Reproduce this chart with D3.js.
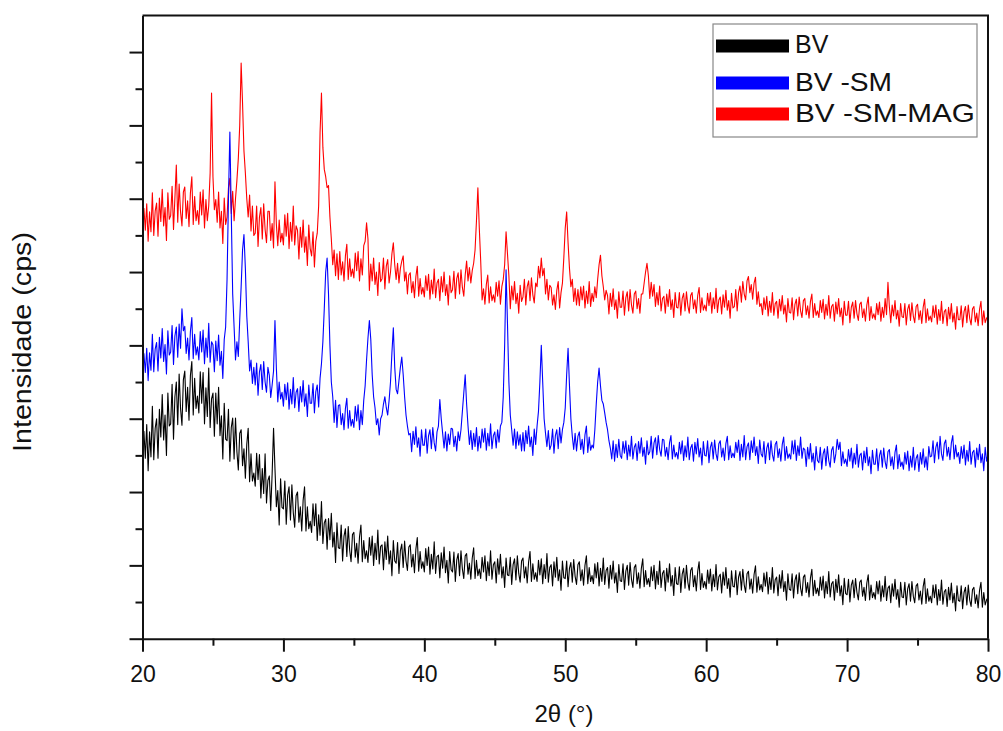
<!DOCTYPE html>
<html>
<head>
<meta charset="utf-8">
<script src="https://cdn.jsdelivr.net/npm/d3@7"></script>
<style>
  body { margin: 0; background: #fff; }
  svg { display: block; }
  text { font-family: "Liberation Sans", Arial, sans-serif; fill: #111; }
</style>
</head>
<body>
<svg id="chart" width="1003" height="731"></svg>
<script>
// Scan: 2θ from 20° to 80°, step 0.1° (one row below = 1°)
const thetaStart = 20;
const thetaStep = 0.1;

// Intensity (cps) for each sample
const bv = [
  2240, 2830, 2460, 2920, 2290, 2820, 2480, 3170, 2440, 2870,
  3000, 2460, 3130, 2750, 3330, 2710, 3050, 2500, 3350, 2900,
  2930, 3470, 2720, 3300, 3500, 2920, 3610, 3140, 2910, 3530,
  3650, 3100, 3430, 2980, 3590, 3780, 3050, 3550, 3140, 3310,
  3080, 3640, 3210, 3630, 2930, 3420, 3030, 3690, 2880, 3270,
  3350, 2760, 3350, 2930, 3430, 2770, 3040, 2450, 3210, 2720,
  2700, 3130, 2420, 2880, 3010, 2450, 3010, 2550, 2300, 2800,
  2850, 2360, 2590, 2190, 2650, 2870, 2140, 2520, 2150, 2260,
  2080, 2530, 2170, 2510, 1920, 2320, 1980, 2520, 1850, 2160,
  2220, 1750, 2250, 2870, 2320, 1800, 2020, 1550, 2180, 1790,
  1770, 2150, 1560, 1960, 2070, 1620, 2100, 1720, 1520, 1950,
  2000, 1590, 1800, 1470, 1890, 2070, 1470, 1800, 1500, 1600,
  1450, 1840, 1540, 1840, 1340, 1690, 1410, 1870, 1300, 1580,
  1630, 1220, 1640, 1350, 1710, 1250, 1450, 1040, 1580, 1240,
  1230, 1550, 1060, 1400, 1500, 1120, 1530, 1210, 1050, 1420,
  1450, 1110, 1300, 1030, 1390, 1550, 1050, 1340, 1090, 1200,
  1040, 1380, 1140, 1400, 1000, 1300, 1080, 1480, 1020, 1260,
  1280, 940, 1320, 1080, 1400, 1020, 1200, 860, 1340, 1060,
  1030, 1310, 890, 1200, 1290, 970, 1330, 1060, 930, 1250,
  1280, 980, 1150, 900, 1220, 1380, 920, 1190, 960, 1050,
  910, 1230, 1000, 1250, 880, 1150, 950, 1320, 890, 1120,
  1140, 830, 1170, 960, 1250, 900, 1070, 760, 1190, 940,
  910, 1180, 780, 1070, 1160, 860, 1200, 950, 820, 1130,
  1160, 880, 1030, 810, 1100, 1240, 820, 1070, 860, 950,
  820, 1110, 910, 1130, 790, 1050, 860, 1200, 810, 1010,
  1050, 760, 1090, 880, 1150, 830, 980, 700, 1100, 870,
  860, 1110, 740, 1010, 1090, 800, 1130, 890, 770, 1060,
  1100, 830, 980, 760, 1050, 1190, 780, 1020, 810, 900,
  780, 1070, 870, 1090, 750, 1010, 820, 1160, 770, 970,
  1010, 720, 1050, 840, 1110, 790, 940, 660, 1060, 830,
  820, 1060, 710, 960, 1040, 770, 1080, 850, 740, 1010,
  1050, 790, 940, 730, 1000, 1130, 750, 970, 780, 860,
  750, 1020, 830, 1040, 720, 960, 780, 1100, 740, 930,
  970, 690, 1000, 810, 1060, 760, 900, 630, 1010, 790,
  780, 1020, 670, 920, 1000, 730, 1040, 810, 700, 970,
  1010, 750, 900, 690, 960, 1090, 710, 930, 740, 820,
  710, 980, 790, 1000, 680, 920, 740, 1060, 700, 890,
  930, 650, 960, 770, 1020, 720, 860, 590, 970, 750,
  740, 980, 630, 880, 960, 690, 1000, 770, 660, 930,
  970, 710, 860, 650, 920, 1050, 670, 890, 700, 780,
  680, 935, 755, 950, 650, 875, 710, 1010, 665, 845,
  880, 625, 910, 730, 970, 685, 820, 565, 925, 715,
  705, 930, 600, 840, 915, 660, 945, 735, 630, 885,
  920, 680, 815, 620, 875, 995, 635, 845, 665, 740,
  640, 895, 715, 910, 610, 835, 670, 970, 625, 805,
  840, 585, 870, 690, 930, 645, 780, 525, 885, 675,
  660, 885, 555, 795, 870, 615, 900, 690, 585, 840,
  870, 630, 765, 570, 825, 945, 585, 795, 615, 690,
  585, 840, 660, 855, 555, 780, 615, 915, 570, 750,
  780, 525, 810, 630, 870, 585, 720, 465, 825, 615,
  600, 810, 500, 730, 800, 560, 820, 630, 530, 770,
  800, 580, 700, 520, 760, 870, 530, 730, 560, 630,
  540, 780, 610, 790, 510, 720, 570, 850, 520, 690,
  720, 490, 750, 580, 810, 540, 670, 430, 770, 570,
  560, 770, 460, 680, 750, 510, 780, 580, 490, 720,
  750, 530, 650, 470, 710, 820, 480, 680, 510, 580,
  490, 730, 560, 740, 460, 670, 520, 800, 470, 640,
  670, 440, 700, 530, 760, 490, 620, 380, 720, 520,
  510, 720, 410, 630, 700, 460, 730, 530, 440, 670,
  700, 480, 600, 420, 660, 770, 430, 630, 460, 530,
  560
];

const bvSm = [
  3470, 3890, 3630, 3960, 3520, 3900, 3660, 4150, 3640, 3950,
  4040, 3650, 4110, 3830, 4230, 3780, 4010, 3610, 4200, 3870,
  3910, 4270, 3740, 4130, 4250, 3840, 4290, 3960, 4500, 4200,
  4260, 3890, 4100, 3800, 4190, 4380, 3820, 4150, 3870, 3980,
  3800, 4190, 3910, 4210, 3750, 4100, 3840, 4300, 3770, 4050,
  4010, 3640, 4060, 3790, 4140, 3730, 3920, 3550, 4080, 4250,
  4900, 6000, 6910, 5800, 4700, 4250, 3800, 4050, 3850, 4350,
  4800, 5300, 5510, 5050, 4400, 4050, 3650, 3800, 3480, 3700,
  3460, 3760, 3320, 3640, 3740, 3400, 3780, 3500, 3360, 3700,
  3590, 3290, 3460, 3650, 4340, 3690, 3230, 3500, 3270, 3360,
  3170, 3470, 3260, 3490, 3130, 3400, 3200, 3560, 3150, 3360,
  3410, 3100, 3440, 3230, 3520, 3170, 3340, 3030, 3460, 3210,
  3210, 3480, 3080, 3370, 3460, 3160, 3550, 3750, 4050, 4500,
  5000, 5190, 4700, 4000, 3500, 3300, 2950, 3250, 2880, 3180,
  3190, 2920, 3070, 2850, 3140, 3280, 2870, 3110, 2900, 2990,
  2880, 3170, 2970, 3190, 2850, 3110, 2920, 3250, 3450, 3800,
  4100, 4340, 4080, 3600, 3300, 3150, 2920, 3000, 2780, 3000,
  3050, 3200, 3300, 3150, 3050, 3250, 3500, 3900, 4240, 3700,
  3400, 3340, 3520, 3700, 3840, 3600, 3300, 3050, 2900, 2780,
  2800, 2550, 2830, 2650, 2890, 2610, 2740, 2490, 2850, 2640,
  2640, 2860, 2530, 2770, 2850, 2590, 2880, 2670, 2560, 2820,
  2900, 3260, 3000, 2800, 2600, 2820, 2560, 2790, 2650, 2870,
  2860, 2620, 2760, 2560, 2820, 2700, 2850, 3100, 3350, 3600,
  3200, 2900, 2650, 2840, 2580, 2800, 2620, 2880, 2560, 2760,
  2600, 2860, 2680, 2870, 2570, 2800, 2630, 2930, 2590, 2770,
  2820, 2600, 2850, 2680, 2900, 2950, 3300, 4000, 5030, 4300,
  3500, 3050, 2850, 2640, 2860, 2590, 2820, 2640, 2780, 2560,
  2810, 2560, 2840, 2660, 2900, 2620, 2750, 2500, 2860, 2650,
  2900, 3100, 3500, 4000, 3500, 3000, 2800, 2620, 2840, 2580,
  2640, 2860, 2530, 2770, 2850, 2590, 2880, 2670, 2850, 2950,
  3150, 3600, 3960, 3450, 3000, 2760, 2580, 2800, 2560, 2760,
  2820, 2580, 2720, 2520, 2780, 2900, 2540, 2750, 2570, 2640,
  2600, 2850, 3200, 3500, 3690, 3450, 3250, 3200, 3080, 2950,
  2850, 2700, 2600, 2450, 2700, 2420, 2650, 2470, 2720, 2500,
  2460, 2690, 2530, 2700, 2440, 2640, 2490, 2760, 2450, 2610,
  2660, 2430, 2690, 2530, 2740, 2490, 2610, 2380, 2700, 2510,
  2550, 2760, 2460, 2670, 2740, 2510, 2770, 2580, 2490, 2720,
  2710, 2490, 2610, 2440, 2670, 2770, 2450, 2640, 2480, 2540,
  2450, 2680, 2520, 2700, 2430, 2630, 2480, 2750, 2440, 2600,
  2650, 2420, 2680, 2520, 2730, 2480, 2600, 2370, 2690, 2500,
  2490, 2700, 2400, 2610, 2680, 2450, 2710, 2520, 2430, 2660,
  2700, 2480, 2600, 2430, 2660, 2760, 2440, 2630, 2470, 2530,
  2470, 2680, 2540, 2710, 2430, 2650, 2480, 2770, 2440, 2620,
  2670, 2440, 2700, 2540, 2750, 2500, 2620, 2390, 2710, 2520,
  2480, 2690, 2390, 2600, 2670, 2440, 2700, 2510, 2420, 2650,
  2690, 2470, 2590, 2420, 2650, 2750, 2430, 2620, 2460, 2520,
  2450, 2700, 2520, 2710, 2430, 2630, 2500, 2750, 2460, 2600,
  2580, 2350, 2610, 2450, 2660, 2410, 2530, 2300, 2620, 2430,
  2400, 2610, 2310, 2520, 2590, 2360, 2620, 2430, 2340, 2570,
  2620, 2400, 2520, 2720, 2580, 2680, 2360, 2550, 2390, 2450,
  2350, 2580, 2420, 2600, 2330, 2530, 2380, 2650, 2340, 2500,
  2530, 2300, 2560, 2400, 2610, 2360, 2480, 2250, 2570, 2380,
  2380, 2590, 2290, 2500, 2570, 2340, 2600, 2410, 2320, 2550,
  2580, 2360, 2480, 2310, 2540, 2640, 2320, 2510, 2350, 2410,
  2310, 2540, 2380, 2560, 2290, 2490, 2340, 2610, 2300, 2460,
  2510, 2280, 2540, 2380, 2590, 2340, 2480, 2300, 2620, 2480,
  2490, 2700, 2400, 2610, 2680, 2450, 2760, 2520, 2430, 2660,
  2710, 2490, 2610, 2440, 2670, 2770, 2450, 2640, 2480, 2540,
  2390, 2620, 2460, 2640, 2370, 2570, 2420, 2690, 2380, 2540,
  2570, 2340, 2600, 2440, 2650, 2400, 2520, 2290, 2610, 2420,
  2520
];

const bvSmMag = [
  5410, 5870, 5570, 5930, 5420, 5820, 5550, 6080, 5500, 5830,
  5940, 5490, 6010, 5690, 6130, 5630, 5880, 5430, 6080, 5720,
  5770, 6170, 5580, 6010, 6460, 5680, 6200, 5820, 5630, 6090,
  6160, 5730, 5970, 5620, 6080, 6300, 5650, 6030, 5700, 5840,
  5650, 6090, 5780, 6120, 5600, 5990, 5700, 5900, 6350, 7440,
  6300, 5850, 5990, 5680, 6090, 5600, 5830, 5390, 6010, 5650,
  5750, 6150, 6280, 5800, 6100, 5700, 6000, 6250, 6550, 7000,
  7850, 7300, 6650, 6350, 6000, 5750, 6050, 5560, 5900, 5500,
  5530, 5900, 5350, 5750, 5880, 5450, 5930, 5580, 5400, 5830,
  5830, 5430, 5660, 5330, 6230, 5650, 5360, 5710, 5410, 5530,
  5370, 5780, 5490, 5800, 5320, 5680, 5420, 5900, 5370, 5630,
  5570, 5180, 5610, 5340, 5710, 5270, 5480, 5090, 5640, 5320,
  5220, 5550, 5070, 5420, 5530, 5900, 6900, 7440, 6700, 6400,
  6300, 6150, 6180, 5750, 5450, 5100, 5300, 4950, 5250, 4900,
  5280, 4960, 5140, 4880, 5220, 5380, 4900, 5180, 4940, 5040,
  4920, 5260, 5020, 5280, 4880, 5180, 4960, 5360, 5420, 5670,
  5450, 4750, 5110, 4880, 5190, 4830, 5000, 4680, 5130, 4870,
  4910, 5190, 4770, 5080, 5170, 4850, 5000, 5250, 5400, 5100,
  4900, 5120, 4850, 5050, 5150, 5220, 4880, 5000, 4700, 4960,
  4990, 4720, 4870, 4650, 4940, 5080, 4670, 4910, 4700, 4790,
  4660, 4950, 4750, 4970, 4630, 4890, 4700, 5040, 4650, 4850,
  4900, 4610, 4940, 4730, 5000, 4680, 4830, 4550, 4950, 4720,
  4760, 5010, 4640, 4910, 4990, 4700, 5030, 4790, 4670, 4960,
  5150, 4880, 5060, 4850, 5020, 5120, 5300, 5700, 6150, 5600,
  5150, 4620, 4770, 4560, 4830, 4960, 4580, 4800, 4610, 4690,
  4590, 4860, 4670, 4880, 4560, 4800, 4900, 5100, 5550, 5250,
  4950, 4500, 4810, 4620, 4870, 4570, 4710, 4440, 4820, 4600,
  4660, 4900, 4550, 4800, 4880, 4610, 4920, 4690, 4580, 4850,
  4800, 5080, 4920, 5190, 4950, 5050, 4700, 4900, 4620, 4820,
  4790, 4550, 4690, 4490, 4750, 4870, 4510, 4720, 4850, 5200,
  5600, 5820, 5400, 5050, 4800, 4900, 4600, 4780, 4550, 4760,
  4540, 4800, 4620, 4810, 4510, 4740, 4570, 4870, 4530, 4710,
  4600, 4800, 4650, 4900, 5100, 5230, 4950, 4800, 4620, 4750,
  4680, 4430, 4710, 4530, 4770, 4490, 4620, 4370, 4730, 4520,
  4520, 4740, 4410, 4650, 4730, 4470, 4760, 4550, 4440, 4700,
  4740, 4500, 4640, 4440, 4700, 4700, 4850, 5000, 5120, 4950,
  4640, 4860, 4670, 4830, 4530, 4720, 4550, 4810, 4470, 4640,
  4670, 4440, 4700, 4530, 4760, 4490, 4620, 4380, 4720, 4520,
  4510, 4720, 4410, 4640, 4710, 4470, 4730, 4540, 4440, 4680,
  4720, 4500, 4620, 4440, 4680, 4790, 4450, 4650, 4480, 4550,
  4470, 4710, 4540, 4720, 4440, 4650, 4500, 4780, 4450, 4620,
  4660, 4430, 4690, 4520, 4750, 4480, 4610, 4370, 4710, 4510,
  4530, 4760, 4470, 4720, 4810, 4590, 4870, 4700, 4620, 4880,
  4940, 4720, 4830, 4630, 4850, 4930, 4560, 4730, 4530, 4570,
  4420, 4650, 4490, 4670, 4400, 4600, 4450, 4720, 4410, 4570,
  4600, 4370, 4630, 4470, 4680, 4430, 4550, 4320, 4640, 4450,
  4440, 4650, 4350, 4560, 4630, 4400, 4660, 4470, 4380, 4610,
  4640, 4420, 4540, 4370, 4600, 4700, 4380, 4570, 4410, 4470,
  4380, 4610, 4450, 4630, 4360, 4560, 4410, 4680, 4370, 4530,
  4560, 4330, 4590, 4430, 4640, 4390, 4510, 4280, 4600, 4410,
  4410, 4600, 4310, 4520, 4590, 4370, 4610, 4430, 4340, 4560,
  4590, 4380, 4500, 4330, 4550, 4660, 4340, 4530, 4370, 4430,
  4350, 4570, 4420, 4590, 4330, 4520, 4380, 4640, 4420, 4860,
  4530, 4310, 4550, 4400, 4610, 4360, 4480, 4260, 4570, 4390,
  4380, 4570, 4280, 4490, 4560, 4340, 4580, 4400, 4310, 4530,
  4560, 4350, 4470, 4300, 4520, 4630, 4310, 4500, 4340, 4400,
  4320, 4540, 4380, 4550, 4290, 4490, 4340, 4600, 4300, 4460,
  4490, 4270, 4520, 4360, 4570, 4320, 4440, 4220, 4530, 4350,
  4350, 4540, 4250, 4460, 4530, 4310, 4550, 4370, 4280, 4500,
  4530, 4320, 4440, 4270, 4490, 4600, 4280, 4470, 4310, 4370,
  4400
];

const seriesNames = ["BV", "BV -SM", "BV -SM-MAG"];
const seriesColors = ["#000000", "#0000ff", "#ff0000"];
const xMajorTicks = [20, 30, 40, 50, 60, 70, 80];
const xMinorTicks = [25, 35, 45, 55, 65, 75];
const yMajorTicks = [0, 1000, 2000, 3000, 4000, 5000, 6000, 7000, 8000];
const yMinorTicks = [500, 1500, 2500, 3500, 4500, 5500, 6500, 7500];

const svg = d3.select("#chart");
const plotLeft = 142.5, plotRight = 988, plotTop = 15.4, plotBottom = 638.7;

const x = d3.scaleLinear().domain([20, 80]).range([plotLeft, plotRight]);
const y = d3.scaleLinear().domain([0, 8500]).range([plotBottom, plotTop]);

// Traces: red first, black last on top
const traces = [
  { values: bvSmMag, color: seriesColors[2] },
  { values: bvSm, color: seriesColors[1] },
  { values: bv, color: seriesColors[0] }
];
const line = d3.line()
  .x((d, i) => x(thetaStart + i * thetaStep))
  .y(d => y(d));

svg.append("g")
  .selectAll("path")
  .data(traces)
  .join("path")
  .attr("d", d => line(d.values))
  .attr("fill", "none")
  .attr("stroke", d => d.color)
  .attr("stroke-width", 1.1)
  .attr("stroke-linejoin", "round");

// Frame (top and right edges)
svg.append("path")
  .attr("d", `M${plotLeft},${plotTop}H${plotRight}V${plotBottom}`)
  .attr("fill", "none")
  .attr("stroke", "#111")
  .attr("stroke-width", 2);

// X axis
const xMajor = svg.append("g")
  .attr("transform", `translate(0,${plotBottom})`)
  .call(d3.axisBottom(x).tickValues(xMajorTicks).tickSize(13).tickSizeOuter(0).tickPadding(14));
const xMinor = svg.append("g")
  .attr("transform", `translate(0,${plotBottom})`)
  .call(d3.axisBottom(x).tickValues(xMinorTicks).tickSize(7).tickFormat(""));
xMinor.select(".domain").remove();

// Y axis (unlabelled ticks)
svg.append("g")
  .attr("transform", `translate(${plotLeft},0)`)
  .call(d3.axisLeft(y).tickValues(yMajorTicks).tickSize(13).tickSizeOuter(0).tickFormat(""));
const yMinor = svg.append("g")
  .attr("transform", `translate(${plotLeft},0)`)
  .call(d3.axisLeft(y).tickValues(yMinorTicks).tickSize(7).tickFormat(""));
yMinor.select(".domain").remove();

svg.selectAll(".domain").attr("stroke", "#111").attr("stroke-width", 2);
svg.selectAll(".tick line").attr("stroke", "#111").attr("stroke-width", 2);
xMajor.selectAll(".tick text")
  .attr("font-size", 23)
  .attr("fill", "#111")
  .style("font-family", '"Liberation Sans", Arial, sans-serif');

// Axis titles
svg.append("text")
  .attr("x", 564).attr("y", 722)
  .attr("text-anchor", "middle")
  .attr("font-size", 24)
  .text("2θ (°)");

svg.append("text")
  .attr("transform", "translate(31,342) rotate(-90)")
  .attr("text-anchor", "middle")
  .attr("font-size", 26)
  .attr("textLength", 220)
  .attr("lengthAdjust", "spacingAndGlyphs")
  .text("Intensidade (cps)");

// Legend
const legend = svg.append("g");
legend.append("rect")
  .attr("x", 713).attr("y", 24).attr("width", 264).attr("height", 113)
  .attr("fill", "#fff").attr("stroke", "#888").attr("stroke-width", 1.2);

const legendRows = [
  { name: seriesNames[0], color: seriesColors[0], cy: 46, base: 53, len: null },
  { name: seriesNames[1], color: seriesColors[1], cy: 83, base: 91, len: 97 },
  { name: seriesNames[2], color: seriesColors[2], cy: 114, base: 122, len: 180 }
];
const rows = legend.selectAll("g.row").data(legendRows).join("g").attr("class", "row");
rows.append("rect")
  .attr("x", 716).attr("y", d => d.cy - 6.5)
  .attr("width", 73).attr("height", 13)
  .attr("fill", d => d.color);
rows.append("text")
  .attr("x", 795).attr("y", d => d.base)
  .attr("font-size", 25)
  .each(function (d) {
    if (d.len) d3.select(this).attr("textLength", d.len).attr("lengthAdjust", "spacingAndGlyphs");
  })
  .text(d => d.name);
</script>
</body>
</html>
